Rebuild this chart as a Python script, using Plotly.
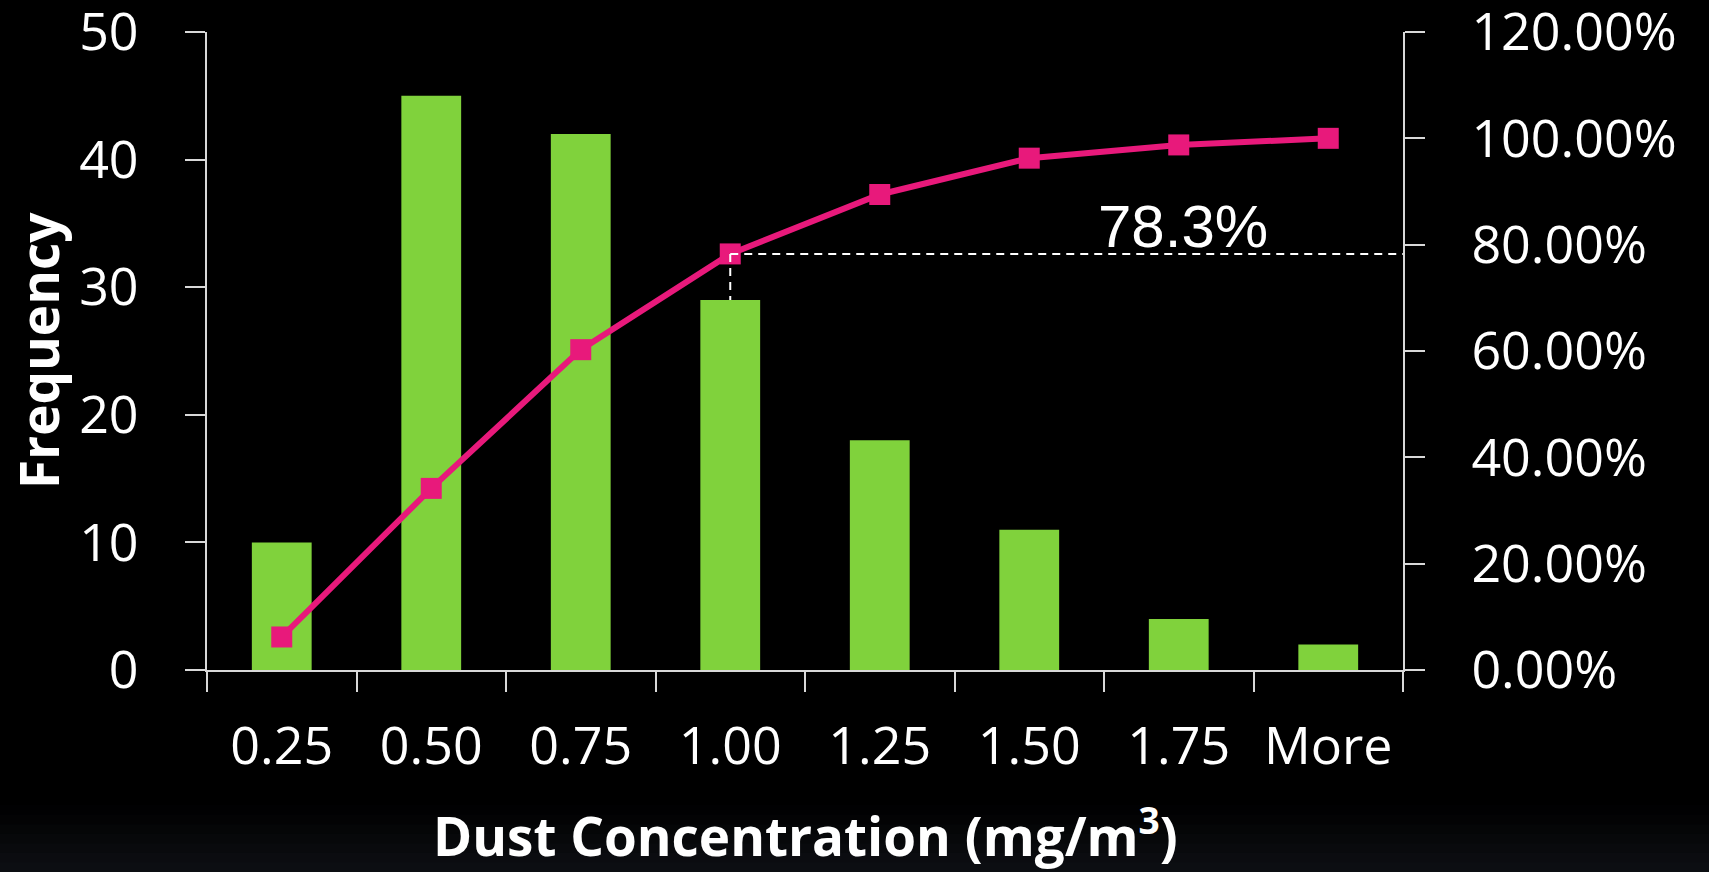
import plotly.graph_objects as go

categories = ["0.25", "0.50", "0.75", "1.00", "1.25", "1.50", "1.75", "More"]
frequency = [10, 45, 42, 29, 18, 11, 4, 2]
cumulative_pct = [0.0621, 0.3416, 0.6025, 0.7826, 0.8944, 0.9627, 0.9876, 1.0]

highlight_idx = 3
highlight_label = f"{cumulative_pct[highlight_idx]*100:.1f}%"

W, H = 1709, 872
ML, MR, MT, MB = 207, 306, 32, 202
PW, PH = W - ML - MR, H - MT - MB


def px_x(px):
    return (px - ML) / PW


def px_y(py):
    return (H - MB - py) / PH


GREEN = "#80D23C"
PINK = "#E8197B"
AXIS = "#D9D9D9"
TICKFONT = dict(family="Open Sans", size=52, color="white")
TITLEFONT = dict(family="Open Sans", size=53, color="white")

fig = go.Figure()

# subtle bottom gradient of the slide background
bands = ["#010102", "#030304", "#050607", "#07080a", "#090a0d", "#0b0c10", "#0c0e12"]
band_top = 805
band_h = (H - band_top) / len(bands)
for i, c in enumerate(bands):
    fig.add_shape(type="rect", xref="paper", yref="paper", layer="below",
                  x0=px_x(0), x1=px_x(W),
                  y0=px_y(band_top + i * band_h), y1=px_y(band_top + (i + 1) * band_h + 1),
                  fillcolor=c, line=dict(width=0))

fig.add_trace(go.Bar(
    x=categories, y=frequency, marker=dict(color=GREEN, line=dict(width=0)),
    width=0.4, yaxis="y", name="Frequency", showlegend=False,
))
fig.add_trace(go.Scatter(
    x=categories, y=cumulative_pct, yaxis="y2", mode="lines+markers",
    line=dict(color=PINK, width=6),
    marker=dict(symbol="square", size=21, color=PINK),
    name="Cumulative %", showlegend=False,
))

# dashed guide lines at highlighted point
y_bar_top_on_y2 = frequency[highlight_idx] / 50 * 1.2
fig.add_shape(type="line", xref="x", yref="y2",
              x0=highlight_idx, x1=len(categories) - 0.5,
              y0=cumulative_pct[highlight_idx], y1=cumulative_pct[highlight_idx],
              line=dict(color="white", width=2, dash="8px,6px"))
fig.add_shape(type="line", xref="x", yref="y2",
              x0=highlight_idx, x1=highlight_idx,
              y0=cumulative_pct[highlight_idx], y1=y_bar_top_on_y2,
              line=dict(color="white", width=2, dash="8px,6px"))

fig.add_annotation(text=highlight_label, xref="paper", yref="paper",
                   x=px_x(1183), y=px_y(226), xanchor="center", yanchor="middle",
                   showarrow=False,
                   font=dict(family="Liberation Sans", size=60, color="white"))

fig.add_annotation(text="<b>Frequency</b>", xref="paper", yref="paper",
                   x=px_x(38), y=px_y(351), textangle=-90, xanchor="center", yanchor="middle",
                   showarrow=False, font=TITLEFONT)
fig.add_annotation(text="<b>Dust Concentration (mg/m<sup>3</sup>)</b>", xref="paper", yref="paper",
                   x=0.5, y=px_y(833), xanchor="center", yanchor="middle",
                   showarrow=False, font=TITLEFONT)

common = dict(showgrid=False, zeroline=False, showline=True, linecolor=AXIS, linewidth=2,
              ticks="outside", ticklen=20, tickwidth=2, tickcolor=AXIS,
              tickfont=TICKFONT, ticklabeloverflow="allow", automargin=False)

fig.update_layout(
    width=W, height=H,
    paper_bgcolor="black", plot_bgcolor="black",
    margin=dict(l=ML, r=MR, t=MT, b=MB, autoexpand=False),
    xaxis=dict(type="category", tickson="boundaries", ticklabelstandoff=30,
               range=[-0.5, len(categories) - 0.5], **common),
    yaxis=dict(range=[0, 50], dtick=10, ticklabelstandoff=36, **common),
    yaxis2=dict(range=[0, 1.2], dtick=0.2, tickformat=".2%", overlaying="y", side="right",
                ticklabelstandoff=36, **common),
)

fig.write_html("out.html",
               config={"displayModeBar": False},
               post_script="document.body.style.margin='0';document.body.style.overflow='hidden';document.documentElement.style.overflow='hidden';document.body.style.background='black';")
